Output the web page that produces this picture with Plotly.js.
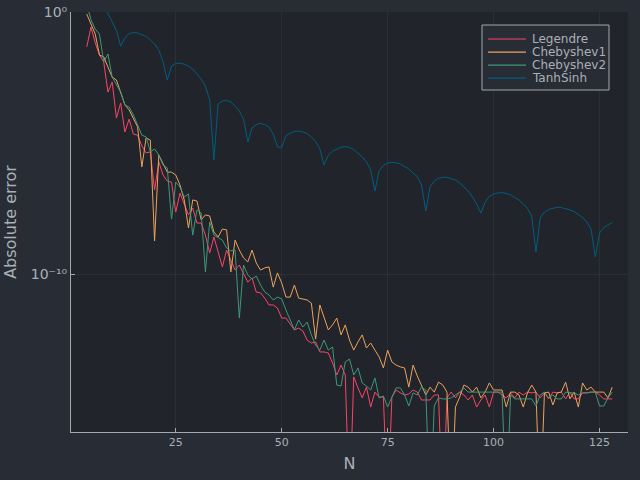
<!DOCTYPE html>
<html><head><meta charset="utf-8">
<script src="https://cdn.plot.ly/plotly-3.0.1.min.js"></script>
<style>html,body{margin:0;padding:0;background:#282c34;}#chart{width:640px;height:480px;}</style>
</head><body><div id="chart"></div>
<script>
// Quadrature order N runs from 4 to 128
const nFirst = 4, nLast = 128;
const seriesNames = ["Legendre", "Chebyshev1", "Chebyshev2", "TanhSinh"];
const seriesColors = ["#fe4365", "#eca25c", "#3f9778", "#005d7f"];

// log10(absolute error); -19 marks an exact zero (drawn below the axis floor)
const legendreLog = [
 -1.33,-0.57,-1.18,-1.64,-1.90,-3.05,-2.67,-4.04,-3.47,-4.57,
 -4.08,-4.65,-4.69,-5.10,-5.37,-5.33,-6.78,-5.71,-6.21,-6.44,
 -6.48,-7.62,-6.90,-7.28,-7.73,-7.47,-8.04,-8.04,-8.50,-9.18,
 -8.57,-9.14,-9.71,-9.07,-9.45,-9.83,-9.64,-9.94,-10.29,-10.13,
 -10.67,-10.70,-10.90,-11.16,-11.16,-11.28,-11.66,-11.66,-11.89,-12.11,
 -12.04,-12.15,-12.50,-12.61,-12.57,-12.95,-12.95,-12.99,-13.37,-13.83,
 -13.45,-13.83,-19,-13.90,-14.32,-14.70,-14.29,-15.05,-14.48,-14.67,
 -14.67,-19,-14.67,-14.40,-14.51,-14.59,-14.55,-14.40,-14.48,-14.78,
 -14.78,-14.78,-14.59,-14.59,-19,-14.70,-14.48,-14.70,-14.48,-14.59,
 -14.78,-14.59,-15.05,-14.78,-14.59,-15.05,-14.48,-14.48,-14.59,-14.70,
 -14.51,-14.70,-14.48,-14.59,-14.48,-14.51,-14.48,-14.70,-14.51,-14.74,
 -14.48,-14.51,-14.48,-14.74,-14.48,-14.74,-14.74,-14.51,-14.51,-14.48,
 -14.48,-14.59,-14.74,-14.74,-14.74
];
const chebyshev1Log = [
 -0.08,-0.46,-0.84,-1.64,-1.71,-2.10,-2.48,-2.59,-3.05,-3.54,
 -3.73,-4.08,-4.38,-5.90,-4.80,-4.88,-8.72,-5.45,-5.75,-6.10,
 -6.10,-6.21,-6.59,-7.16,-8.23,-7.16,-7.20,-7.92,-7.73,-7.77,
 -8.38,-8.57,-8.27,-8.30,-9.90,-8.69,-9.07,-9.37,-9.52,-9.07,
 -9.56,-9.83,-9.75,-9.71,-10.48,-9.94,-10.32,-10.86,-10.86,-10.40,
 -10.90,-10.93,-10.97,-11.09,-12.46,-11.16,-11.66,-12.11,-11.92,-11.66,
 -12.30,-11.92,-12.50,-12.88,-12.57,-12.30,-12.80,-12.61,-12.88,-13.14,
 -13.56,-12.88,-13.33,-13.45,-13.52,-13.56,-14.29,-13.45,-13.87,-14.21,
 -14.59,-14.29,-14.48,-14.10,-14.21,-14.48,-19,-15.05,-14.67,-14.21,
 -14.29,-14.48,-14.29,-14.70,-14.48,-14.13,-14.40,-14.40,-14.40,-15.05,
 -14.48,-14.48,-14.59,-15.05,-14.51,-14.21,-14.48,-19,-14.51,-14.48,
 -14.97,-14.51,-14.48,-14.10,-14.74,-14.48,-15.05,-14.13,-14.40,-14.29,
 -14.48,-14.48,-14.48,-14.70,-14.29
];
const chebyshev2Log = [
 0.30,-0.30,-0.65,-0.84,-1.90,-1.60,-2.48,-2.74,-3.05,-3.54,
 -3.62,-3.92,-4.30,-4.69,-4.76,-5.33,-5.22,-5.45,-5.83,-5.94,
 -7.89,-6.48,-6.67,-7.05,-6.93,-8.50,-7.54,-7.66,-9.90,-8.00,
 -8.50,-8.61,-8.69,-8.99,-9.10,-9.07,-11.66,-9.64,-10.02,-10.17,
 -10.06,-10.40,-10.67,-10.78,-10.97,-10.86,-10.93,-11.35,-11.73,-12.11,
 -11.73,-12.00,-11.81,-12.30,-12.69,-12.88,-12.50,-12.88,-12.76,-14.21,
 -14.25,-13.33,-13.22,-13.83,-13.56,-14.13,-14.25,-14.40,-13.94,-14.70,
 -14.63,-15.05,-14.67,-14.32,-14.32,-14.59,-15.01,-14.51,-14.59,-14.29,
 -14.40,-19,-15.01,-14.70,-14.74,-14.74,-14.70,-14.59,-14.48,-14.32,
 -14.48,-14.48,-14.48,-14.48,-14.48,-14.48,-14.48,-14.48,-14.48,-19,
 -14.59,-14.74,-14.74,-14.74,-14.74,-14.74,-15.01,-14.59,-14.48,-14.70,
 -14.59,-14.74,-14.74,-14.48,-14.51,-14.51,-14.59,-14.51,-14.51,-14.48,
 -14.48,-15.01,-15.01,-14.70,-14.48
];
const tanhSinhLog = [
 1.00,0.80,0.60,0.40,0.20,-0.05,-0.36,-0.70,-1.30,-0.99,
 -0.82,-0.78,-0.80,-0.86,-0.93,-1.07,-1.22,-1.45,-1.90,-2.59,
 -2.06,-1.96,-1.95,-1.99,-2.06,-2.17,-2.36,-2.55,-2.82,-3.35,
 -5.64,-3.50,-3.39,-3.37,-3.43,-3.58,-3.77,-4.08,-4.95,-4.42,
 -4.29,-4.24,-4.29,-4.38,-4.65,-5.14,-5.15,-4.72,-4.61,-4.55,
 -4.54,-4.57,-4.63,-4.76,-4.93,-5.22,-5.83,-5.45,-5.30,-5.22,
 -5.15,-5.13,-5.16,-5.24,-5.37,-5.52,-5.71,-6.02,-6.82,-6.04,
 -5.85,-5.75,-5.73,-5.74,-5.79,-5.87,-5.98,-6.13,-6.27,-6.59,
 -7.58,-6.67,-6.44,-6.34,-6.30,-6.30,-6.34,-6.40,-6.51,-6.65,
 -6.82,-7.05,-7.31,-7.66,-7.24,-7.03,-6.93,-6.90,-6.88,-6.91,
 -6.97,-7.07,-7.16,-7.31,-7.49,-7.77,-9.14,-7.85,-7.62,-7.52,
 -7.47,-7.44,-7.45,-7.49,-7.54,-7.60,-7.70,-7.83,-8.00,-8.27,
 -9.33,-8.42,-8.21,-8.10,-8.02
];

const yTickVals = [1e-10, 1];
const yTickText = ["10⁻¹⁰", "10⁰"];
const xTickVals = [25, 50, 75, 100, 125];

const nValues = [];
for (let n = nFirst; n <= nLast; n++) nValues.push(n);

const allLogs = [legendreLog, chebyshev1Log, chebyshev2Log, tanhSinhLog];
const traces = allLogs.map((arr, i) => ({
  type: "scatter", mode: "lines", name: seriesNames[i],
  x: nValues, y: arr.map(e => Math.pow(10, e)),
  line: {color: seriesColors[i], width: 1}
}));

const textColor = "#a9b0b8";
const axisColor = "#a3a9b0";
const gridColor = "rgba(173,178,183,0.07)";

// hand-built legend (compact rows like the reference)
const legX0 = 0.7379, legX1 = 0.9659, legY0 = 0.8143, legY1 = 0.9690;
const rowTop = 0.9357, rowStep = 0.0310;
const shapes = [{
  type: "rect", xref: "paper", yref: "paper",
  x0: legX0, x1: legX1, y0: legY0, y1: legY1,
  fillcolor: "#282c34", line: {color: axisColor, width: 1}
}];
const annotations = [];
seriesNames.forEach((name, i) => {
  const yy = rowTop - i * rowStep;
  shapes.push({type: "line", xref: "paper", yref: "paper",
    x0: 0.7487, x1: 0.8169, y0: yy, y1: yy,
    line: {color: seriesColors[i], width: 1.2}});
  annotations.push({xref: "paper", yref: "paper", x: 0.8240, y: yy,
    xanchor: "left", yanchor: "middle", showarrow: false, text: name,
    font: {family: "DejaVu Sans", size: 12, color: textColor}});
});

const layout = {
  width: 640, height: 480,
  paper_bgcolor: "#282c34", plot_bgcolor: "#21252b",
  margin: {l: 71, r: 12, t: 12, b: 48},
  showlegend: false,
  font: {family: "DejaVu Sans", size: 11, color: textColor},
  xaxis: {
    range: [0.28, 131.72], tickvals: xTickVals,
    showgrid: true, gridcolor: gridColor, gridwidth: 1, zeroline: false,
    showline: true, linecolor: axisColor, linewidth: 1,
    ticks: "inside", ticklen: 4, tickcolor: axisColor,
    tickfont: {size: 11, color: textColor},
    title: {text: "N", font: {size: 16, color: textColor}, standoff: 9},
    automargin: false
  },
  yaxis: {
    type: "log", range: [-16, 0], tickvals: yTickVals, ticktext: yTickText,
    showgrid: true, gridcolor: gridColor, gridwidth: 1, zeroline: false,
    showline: true, linecolor: axisColor, linewidth: 1,
    ticks: "inside", ticklen: 4, tickcolor: axisColor,
    tickfont: {size: 14, color: textColor},
    title: {text: "Absolute error", font: {size: 16, color: textColor}, standoff: 10},
    automargin: false
  },
  shapes: shapes,
  annotations: annotations
};

Plotly.newPlot("chart", traces, layout, {displayModeBar: false, staticPlot: true});
</script>
</body></html>
